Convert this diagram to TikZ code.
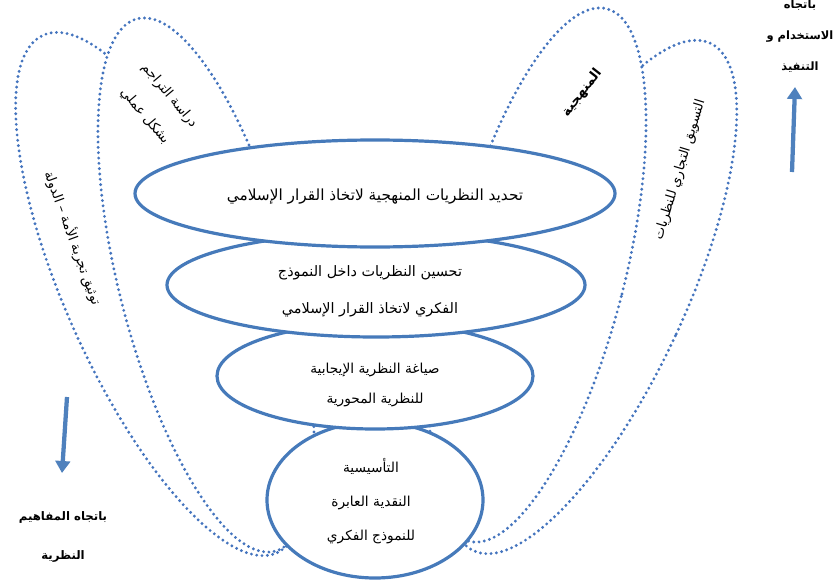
\documentclass[tikz,border=0pt]{standalone}
\usepackage{fontspec}
\usetikzlibrary{arrows.meta}
\newfontfamily\arabicfont[Script=Arabic]{DejaVu Sans}
\TeXXeTstate=1
\newcommand{\ar}[1]{\beginR #1\endR}
\definecolor{edgeblue}{RGB}{70,122,186}
\definecolor{dotblue}{RGB}{68,116,190}
\definecolor{arrowblue}{RGB}{79,129,189}
\begin{document}
\begin{tikzpicture}[x=0.75pt,y=-0.75pt,
  petal/.style={draw=dotblue, line width=2.4pt, dash pattern=on 0pt off 4pt, line cap=round, fill=white},
  ring/.style={draw=edgeblue, line width=2.4pt, fill=white},
  lbl/.style={inner sep=0pt, align=center},
  big/.style 2 args={font=\arabicfont\fontsize{#1}{#2}\selectfont},
  bigb/.style 2 args={font=\arabicfont\bfseries\fontsize{#1}{#2}\selectfont},
  dirarrow/.style={draw=arrowblue, line width=3.2pt, -{Triangle[width=11pt,length=9pt]}}
]
\useasboundingbox (0,0) rectangle (835,585);
% outer petals
\draw[petal, rotate around={24.3:(160,294)}] (160,294) ellipse [x radius=93, y radius=284];
\draw[petal, rotate around={-25:(592,297)}] (592,297) ellipse [x radius=92, y radius=280];
% inner petals
\draw[petal, rotate around={14.5:(206,285)}] (206,285) ellipse [x radius=86, y radius=275];
\draw[petal, rotate around={-14.5:(538,275)}] (538,275) ellipse [x radius=86, y radius=275];
% stacked ellipses
\draw[ring] (375,500) ellipse [x radius=108, y radius=78];
\draw[ring] (375,376) ellipse [x radius=158, y radius=53];
\draw[ring] (376,285) ellipse [x radius=209, y radius=52];
\draw[ring] (375,193.5) ellipse [x radius=240, y radius=53.5];
% texts in ellipses
\node[lbl, big={11.5}{14}] (t1) at (375,197) {\ar{تحديد النظريات المنهجية لاتخاذ القرار الإسلامي}};
\node[lbl, big={10.8}{27.75}] (t2) at (370,291) {\ar{تحسين النظريات داخل النموذج}\\\ar{الفكري لاتخاذ القرار الإسلامي}};
\node[lbl, big={10.3}{22.5}] (t3) at (375,385) {\ar{صياغة النظرية الإيجابية}\\\ar{للنظرية المحورية}};
\node[lbl, big={10.3}{25.5}] (t4) at (371,501) {\ar{التأسيسية}\\\ar{النقدية العابرة}\\\ar{للنموذج الفكري}};
% petal texts
\node[lbl, big={10}{24}, rotate=-50] (p1) at (157,106) {\ar{دراسة التراجم}\\\ar{بشكل عملي}};
\node[lbl, big={10}{12}, rotate=-70] (p2) at (73,238) {\ar{توثيق تجربة الأمة – الدولة}};
\node[lbl, bigb={10}{12}, rotate=52] (p3) at (582,93) {\ar{المنهجية}};
\node[lbl, big={10}{12}, rotate=73] (p4) at (680,170) {\ar{التسويق التجاري للنظريات}};
% direction texts
\node[lbl, bigb={8.6}{23}] (d1) at (800,36) {\ar{باتجاه}\\\ar{الاستخدام و}\\\ar{التنفيذ}};
\node[lbl, bigb={8.8}{29}] (d2) at (63,537) {\ar{باتجاه المفاهيم}\\\ar{النظرية}};
% arrows
\coordinate (u1) at (792,172);
\coordinate (u2) at (795,87);
\coordinate (w1) at (67,397);
\coordinate (w2) at (62,473);
\draw[dirarrow] (u1) -- (u2);
\draw[dirarrow] (w1) -- (w2);
\end{tikzpicture}
\end{document}
